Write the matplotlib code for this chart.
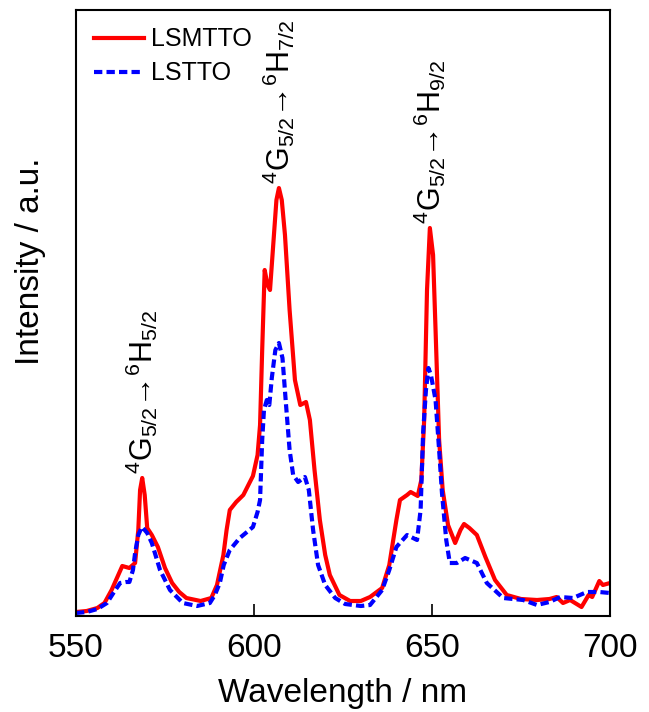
import numpy as np
import matplotlib
matplotlib.use("Agg")
import matplotlib.pyplot as plt

plt.rcParams['font.family'] = ['Liberation Sans', 'DejaVu Sans']
plt.rcParams['mathtext.fontset'] = 'custom'
plt.rcParams['mathtext.rm'] = 'Liberation Sans'
plt.rcParams['mathtext.it'] = 'Liberation Sans'

# LSMTTO (red, solid)
wl_red = [550, 553, 556, 558, 560, 561.5, 563, 565, 566.6, 567.5, 568, 568.6, 569.3, 570,
          571.3, 573, 575, 577, 579, 581, 585, 588, 589.6, 590.5, 591.4, 592.3, 593.2, 595,
          597, 599.7, 601, 601.7, 602.3, 603, 603.8, 604.5, 605.5, 606.3, 607, 607.8, 608.7,
          610, 611.5, 613, 614.6, 615.7, 617, 618.5, 620, 621.3, 624, 627, 630, 632.6, 636,
          638, 640, 641, 643, 644, 645, 646, 647, 647.8, 648.6, 649.4, 650.3, 651, 652, 653,
          654.5, 656.5, 658, 659, 660.5, 662.6, 665, 667.7, 671, 675, 679.5, 683, 685, 686.8,
          688.8, 692, 694, 695, 697, 698, 700]
int_red = [4, 5, 8, 13, 26, 38, 50, 48, 53, 86, 126, 138, 121, 88,
           81, 69, 48, 33, 24, 18, 15, 18, 31, 46, 61, 86, 106, 114,
           121, 140, 161, 191, 266, 346, 331, 326, 376, 416, 428, 416, 381,
           306, 236, 211, 214, 196, 146, 96, 61, 41, 21, 15, 15, 19, 28,
           51, 96, 116, 121, 124, 122, 120, 136, 196, 326, 388, 361, 286, 176, 126,
           91, 73, 86, 92, 88, 81, 59, 36, 21, 17, 16, 17, 19, 13,
           16, 9, 21, 19, 35, 31, 33]

# LSTTO (blue, dashed)
wl_blue = [550, 553, 556, 558.7, 560.5, 562.4, 564, 565, 566, 566.6, 567.5, 568.5, 569.3, 570,
           571.3, 572.5, 573.6, 576.4, 580, 584, 587.6, 589, 590.4, 591.5, 593.2, 596, 599.7,
           601, 601.7, 602.3, 602.8, 603.6, 604.3, 605, 606, 607, 608, 609, 610, 611, 612.4,
           614.3, 615.4, 616.6, 618, 620, 622.8, 625.6, 630, 632.6, 636, 638, 640, 643, 645.8,
           646.8, 647.5, 648.3, 649, 649.7, 651, 652, 652.8, 654, 655, 657, 659.3, 662.6,
           665.4, 670, 675.6, 679.5, 683, 686, 689.6, 693.5, 697, 700]
int_blue = [3, 4, 7, 13, 23, 33, 34, 34, 46, 63, 81, 89, 86, 83,
            73, 59, 46, 26, 13, 10, 13, 21, 33, 51, 66, 78, 89,
            104, 116, 176, 206, 216, 211, 238, 266, 273, 258, 211, 166, 141, 134,
            139, 126, 86, 51, 31, 18, 12, 10, 11, 26, 46, 69, 81, 76,
            106, 183, 226, 248, 241, 216, 166, 123, 76, 53, 53, 58, 53,
            33, 18, 16, 11, 14, 19, 18, 24, 24, 23]

# transition labels: (wavelength, height, text)
trans_wl = [568.6, 607, 649.4]
trans_h = [138, 428, 388]
trans_txt = [r'$^4$G$_{5/2}$→$^6$H$_{5/2}$',
             r'$^4$G$_{5/2}$→$^6$H$_{7/2}$',
             r'$^4$G$_{5/2}$→$^6$H$_{9/2}$']

fig = plt.figure(figsize=(6.49, 7.12), dpi=100)
ax = fig.add_axes([76 / 649, 1 - 616 / 712, 534 / 649, 606 / 712])

ax.plot(wl_red, int_red, color='#ff0000', lw=3, label='LSMTTO')
ax.plot(wl_blue, int_blue, color='#0000ff', lw=3, ls=(0, (2, 1)), label='LSTTO')

for x, h, t in zip(trans_wl, trans_h, trans_txt):
    ax.text(x, h + 4, t, rotation=90, ha='center', va='bottom', fontsize=22)

ax.set_xlim(550, 700)
ax.set_ylim(0, 606)
ax.set_xticks([550, 600, 650, 700])
ax.set_yticks([])
ax.tick_params(axis='x', direction='in', length=9, width=1.2, labelsize=24, pad=12)
for s in ax.spines.values():
    s.set_linewidth(1.5)

ax.set_xlabel('Wavelength / nm', fontsize=24, labelpad=10)
ax.set_ylabel('Intensity / a.u.', fontsize=24)
ax.yaxis.set_label_coords(-0.056, 0.586)

ax.legend(loc='upper left', frameon=False, fontsize=18, handlelength=2.0,
          handletextpad=0.3, labelspacing=0.4, borderaxespad=0.3)

fig.savefig('out.png', dpi=100)
